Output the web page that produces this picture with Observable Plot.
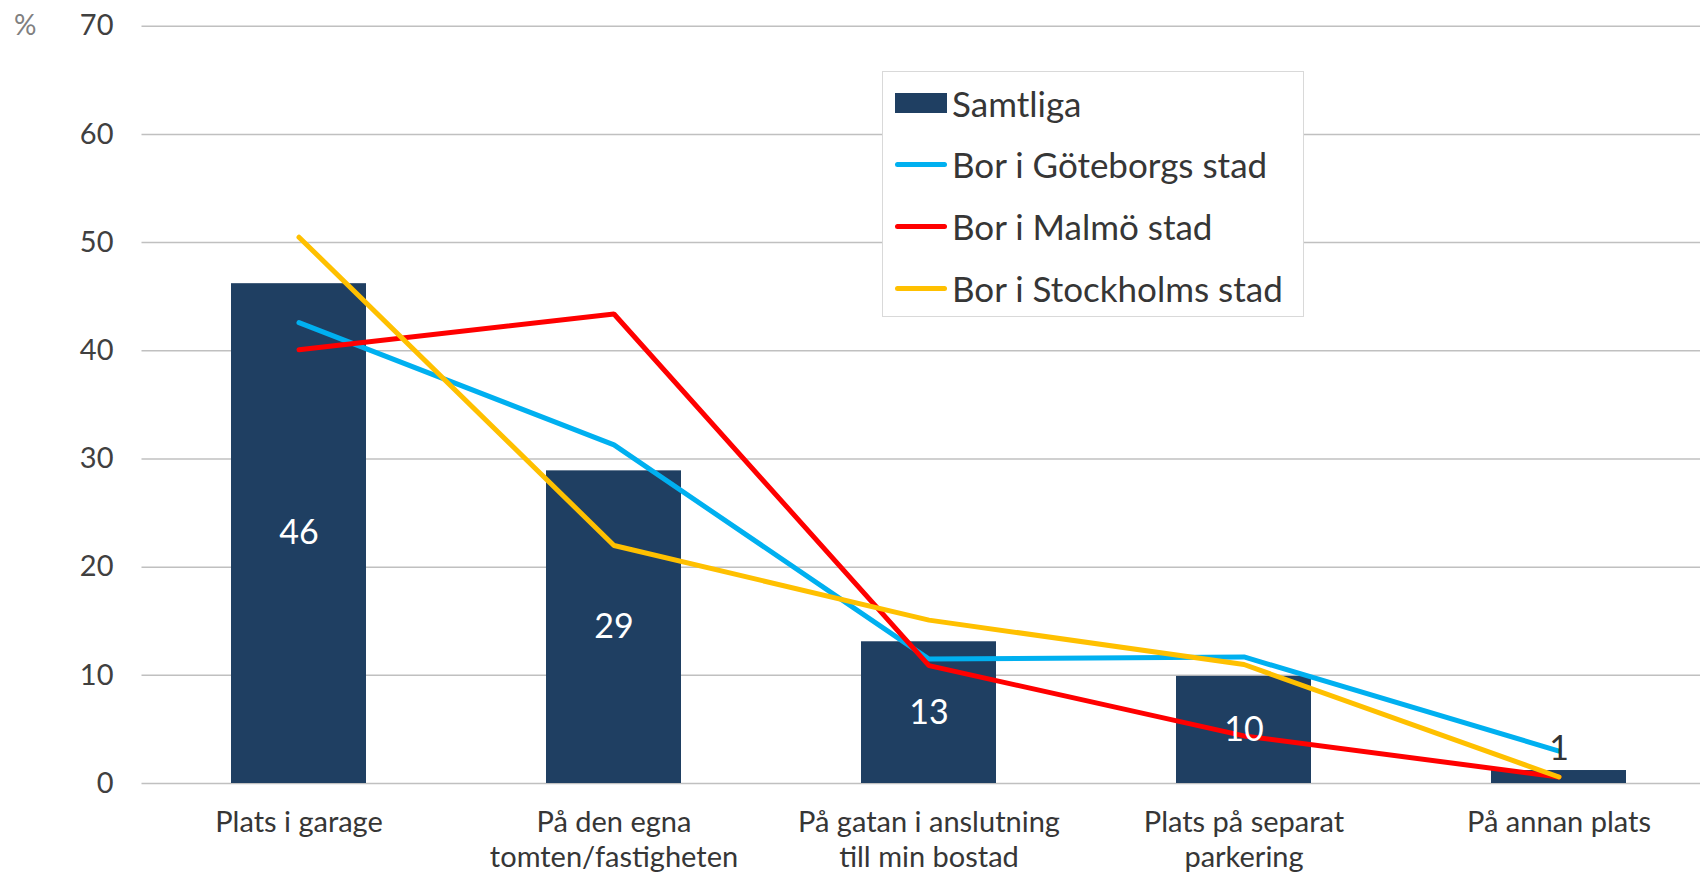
<!DOCTYPE html>
<html>
<head>
<meta charset="utf-8">
<script src="https://cdn.jsdelivr.net/npm/d3@7"></script>
<script src="https://cdn.jsdelivr.net/npm/@observablehq/plot@0.6"></script>
<style>
  html, body { margin: 0; padding: 0; background: #fff; overflow: hidden; }
  #wrap { position: relative; width: 1700px; height: 877px; font-family: Lato, "Open Sans", sans-serif; }
  #legend { position: absolute; left: 882px; top: 71px; width: 422px; height: 246px;
            border: 1.5px solid #d9d9d9; background: #fff; box-sizing: border-box; }
  .row { position: absolute; left: 0; height: 60px; display: flex; align-items: center; }
  .sw { margin-left: 12px; width: 52px; }
  .lbl { margin-left: 5px; font-size: 35px; color: #363636; white-space: nowrap; }
</style>
</head>
<body>
<div id="wrap"></div>
<script>
const categories = ["Plats i garage", "På den egna\ntomten/fastigheten", "På gatan i anslutning\ntill min bostad", "Plats på separat\nparkering", "På annan plats"];
const samtliga = [46.2, 28.9, 13.1, 9.9, 1.2];
const samtligaLabels = [46, 29, 13, 10, 1];
const goteborg = [42.6, 31.3, 11.5, 11.7, 3.0];
const malmo = [40.1, 43.4, 10.9, 4.4, 0.6];
const stockholm = [50.5, 22.0, 15.1, 11.0, 0.6];
const yTicks = [0, 10, 20, 30, 40, 50, 60, 70];
const seriesNames = ["Samtliga", "Bor i Göteborgs stad", "Bor i Malmö stad", "Bor i Stockholms stad"];
const seriesColors = ["#1F3F62", "#00B0F0", "#FF0000", "#FFC000"];

const bars = categories.map((c, i) => ({cat: c, v: samtliga[i], label: samtligaLabels[i]}));
const toRows = (arr) => categories.map((c, i) => ({cat: c, v: arr[i]}));

const chart = Plot.plot({
  width: 1700,
  height: 877,
  marginLeft: 141.5,
  marginRight: 0,
  marginTop: 25.7,
  marginBottom: 94,
  style: {fontFamily: "Lato, 'Open Sans', sans-serif", color: "#404040", background: "#fff"},
  x: {domain: categories, range: [141.5, 1716.5], paddingInner: 0.57, paddingOuter: 0.285, axis: null},
  y: {domain: [0, 70], range: [783, 25.7], axis: null},
  marks: [
    Plot.ruleY(yTicks, {stroke: "#c0c0c0", strokeWidth: 1.5}),
    Plot.axisY({ticks: yTicks, tickSize: 0, tickPadding: 28.5, fontSize: 29, label: null, fill: "#404040"}),
    Plot.text(["%"], {frameAnchor: "top-left", lineAnchor: "middle", dx: -128, textAnchor: "start", fill: "#808080", fontSize: 28}),
    Plot.barY(bars, {x: "cat", y: "v", fill: seriesColors[0]}),
    Plot.line(toRows(goteborg), {x: "cat", y: "v", stroke: seriesColors[1], strokeWidth: 5, strokeLinecap: "round", strokeLinejoin: "miter"}),
    Plot.line(toRows(malmo), {x: "cat", y: "v", stroke: seriesColors[2], strokeWidth: 5, strokeLinecap: "round", strokeLinejoin: "miter"}),
    Plot.line(toRows(stockholm), {x: "cat", y: "v", stroke: seriesColors[3], strokeWidth: 5, strokeLinecap: "round", strokeLinejoin: "miter"}),
    Plot.text(bars.filter(d => d.v >= 5), {x: "cat", y: d => d.v / 2, text: d => String(d.label), fill: "#fff", fontSize: 34}),
    Plot.text(bars.filter(d => d.v < 5), {x: "cat", y: "v", text: d => String(d.label), fill: "#333", fontSize: 34, dy: -21}),
    Plot.text(categories, {x: d => d, frameAnchor: "bottom", text: d => d, lineAnchor: "top", lineHeight: 1.2, dy: 23.5, fontSize: 29, fill: "#363636"})
  ]
});

const wrap = document.getElementById("wrap");
wrap.appendChild(chart);

const legend = document.createElement("div");
legend.id = "legend";
const centers = [30.5, 92, 154, 216];
seriesNames.forEach((name, i) => {
  const row = document.createElement("div");
  row.className = "row";
  row.style.top = (centers[i] - 30) + "px";
  const sw = document.createElement("div");
  sw.className = "sw";
  if (i === 0) { sw.style.height = "20px"; sw.style.background = seriesColors[i]; }
  else { sw.style.height = "5px"; sw.style.borderRadius = "2.5px"; sw.style.background = seriesColors[i]; }
  const lb = document.createElement("div");
  lb.className = "lbl";
  lb.textContent = name;
  row.appendChild(sw); row.appendChild(lb);
  legend.appendChild(row);
});
wrap.appendChild(legend);
</script>
</body>
</html>
